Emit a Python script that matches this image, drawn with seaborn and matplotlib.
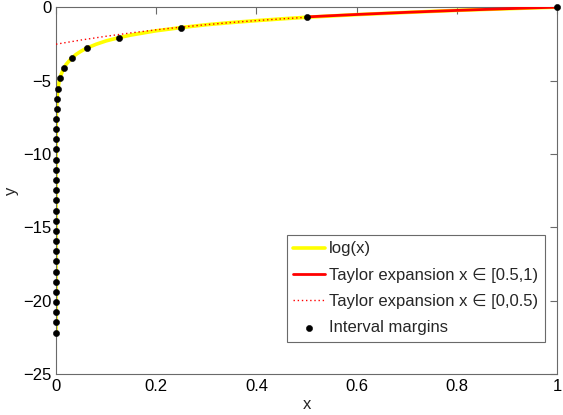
import numpy as np
import pandas as pd
import matplotlib
matplotlib.use('Agg')
import matplotlib.pyplot as plt
import seaborn as sns

# log(x) curve, points
log_x = [2.3e-10, 1e-8, 1e-6, 1e-4, 0.0005, 0.001, 0.002, 0.003, 0.005, 0.0075,
         0.01, 0.015, 0.02, 0.03, 0.04, 0.05, 0.06, 0.08, 0.1, 0.125, 0.15, 0.2,
         0.25, 0.3, 0.35, 0.4, 0.45, 0.5, 0.6, 0.7, 0.8, 0.9, 1.0]
log_y = [-22.19, -18.42, -13.82, -9.21, -7.60, -6.91, -6.21, -5.81, -5.30, -4.89,
         -4.61, -4.20, -3.91, -3.51, -3.22, -3.00, -2.81, -2.53, -2.30, -2.08, -1.90, -1.61,
         -1.39, -1.20, -1.05, -0.92, -0.80, -0.69, -0.51, -0.36, -0.22, -0.11, 0.0]

# Taylor expansion on [0.5, 1)
t1_x = [0.5, 0.55, 0.6, 0.65, 0.7, 0.75, 0.8, 0.85, 0.9, 0.95, 1.0]
t1_y = [-0.667, -0.582, -0.501, -0.426, -0.354, -0.287, -0.223, -0.162, -0.105, -0.051, 0.0]

# Taylor expansion on [0, 0.5)
t2_x = [0.0, 0.05, 0.1, 0.15, 0.2, 0.25, 0.3, 0.35, 0.4, 0.45, 0.5]
t2_y = [-2.526, -2.241, -1.984, -1.753, -1.545, -1.360, -1.195, -1.047, -0.916, -0.799, -0.693]

# interval margins
m_x = [1.0, 0.5, 0.25, 0.125, 0.0625, 0.03125, 0.0156, 0.0078, 0.0039, 0.002, 0.001,
       0.0005, 0.0002, 0.0001, 0.0001, 0.0, 0.0, 0.0, 0.0, 0.0, 0.0, 0.0, 0.0, 0.0,
       0.0, 0.0, 0.0, 0.0, 0.0, 0.0, 0.0, 0.0, 0.0]
m_y = [0.0, -0.69, -1.39, -2.08, -2.77, -3.47, -4.16, -4.85, -5.55, -6.24, -6.93,
       -7.62, -8.32, -9.01, -9.70, -10.40, -11.09, -11.78, -12.48, -13.17, -13.86,
       -14.56, -15.25, -15.94, -16.64, -17.33, -18.02, -18.71, -19.41, -20.10, -20.79,
       -21.49, -22.18]

sns.set_style('white')
plt.rcParams['font.family'] = ['Liberation Sans', 'DejaVu Sans']

axis_col = '#6a6a6a'
fs = 12
fig = plt.figure(figsize=(5.63, 4.15), dpi=100)
ax = fig.add_axes([0.0995, 0.0988, 0.890, 0.884])

sns.lineplot(x=log_x, y=log_y, sort=False, color='#ffff00', lw=2.6, ax=ax,
             label='log(x)', zorder=2)
sns.lineplot(x=t1_x, y=t1_y, sort=False, color='#ff0000', lw=2.0, ax=ax,
             label='Taylor expansion x \u2208 [0.5,1)', zorder=3)
sns.lineplot(x=t2_x, y=t2_y, sort=False, color='#ff0000', lw=1.0, ax=ax,
             linestyle=(0, (1, 2)), label='Taylor expansion x \u2208 [0,0.5)', zorder=3)
sns.scatterplot(x=m_x, y=m_y, color='black', edgecolor='black', s=20, ax=ax,
                label='Interval margins', zorder=4, clip_on=False)

ax.set_xlim(0, 1)
ax.set_ylim(-25, 0)
ax.set_xticks([0, 0.2, 0.4, 0.6, 0.8, 1])
ax.set_xticklabels(['0', '0.2', '0.4', '0.6', '0.8', '1'])
ax.set_yticks([-25, -20, -15, -10, -5, 0])
ax.set_yticklabels(['\u221225', '\u221220', '\u221215', '\u221210', '\u22125', '0'])
ax.tick_params(direction='in', length=5, width=0.8, color=axis_col,
               top=True, right=True, labelsize=fs, labelcolor='black', pad=3.5)
for s in ax.spines.values():
    s.set_color(axis_col)
    s.set_linewidth(0.8)
ax.set_xlabel('x', fontsize=fs, labelpad=2)
ax.set_ylabel('y', fontsize=fs, labelpad=3)

leg = ax.legend(loc='lower right', bbox_to_anchor=(0.976, 0.087), borderaxespad=0,
                fontsize=fs, frameon=True, fancybox=False,
                edgecolor=axis_col, framealpha=1, handlelength=1.9,
                labelspacing=0.68, handletextpad=0.25, borderpad=0.4)
leg.get_frame().set_linewidth(0.8)

fig.savefig('out.png', dpi=100)
